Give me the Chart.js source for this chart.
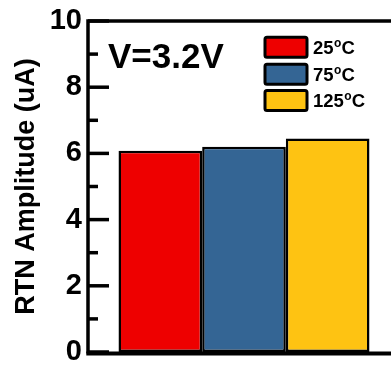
<!DOCTYPE html>
<html>
<head>
<meta charset="utf-8">
<script src="https://cdn.jsdelivr.net/npm/chart.js@4"></script>
<style>
html,body{margin:0;padding:0;background:#fff;overflow:hidden;}
#wrap{width:400px;height:365px;position:relative;}
</style>
</head>
<body>
<div id="wrap"><canvas id="c" width="400" height="365"></canvas></div>
<script>
const categories = [''];
const seriesLabels = ['25\u00B0C', '75\u00B0C', '125\u00B0C'];
const seriesValues = [[6.08], [6.20], [6.45]];
const seriesColors = ['#EE0000', '#346594', '#FEC312'];
const yTicks = [0, 2, 4, 6, 8, 10];
const annotationText = 'V=3.2V';
const yTitle = 'RTN Amplitude (uA)';

const FONT = '"Liberation Sans", Arial, sans-serif';

function drawDegreeLabel(ctx, text, x, cy) {
  const parts = text.split('\u00B0');
  ctx.textAlign = 'left';
  ctx.textBaseline = 'alphabetic';
  const base = cy + 6.7;
  ctx.font = 'bold 18.5px ' + FONT;
  ctx.fillText(parts[0], x, base);
  let px = x + ctx.measureText(parts[0]).width;
  if (parts.length > 1) {
    ctx.font = 'bold 12px ' + FONT;
    ctx.fillText('o', px + 0.5, base - 7);
    px += ctx.measureText('o').width + 0.5;
    ctx.font = 'bold 18.5px ' + FONT;
    ctx.fillText(parts[1], px, base);
  }
}

const framePlugin = {
  id: 'frame',
  afterDraw(chart) {
    const ctx = chart.ctx;
    const a = chart.chartArea;
    const y = chart.scales.y;
    ctx.save();
    ctx.strokeStyle = '#000';
    ctx.lineWidth = 3.5;
    y.ticks.forEach(t => {
      const py = y.getPixelForValue(t.value);
      const len = yTicks.includes(t.value) ? 21 : 10;
      ctx.beginPath();
      ctx.moveTo(a.left, py);
      ctx.lineTo(a.left + len, py);
      ctx.stroke();
    });
    // frame: top, left, bottom
    ctx.lineWidth = 3.5;
    ctx.beginPath();
    ctx.moveTo(a.right + 5, a.top);
    ctx.lineTo(a.left, a.top);
    ctx.lineTo(a.left, a.bottom + 1.5);
    ctx.stroke();
    ctx.lineWidth = 4;
    ctx.beginPath();
    ctx.moveTo(a.left - 1.7, a.bottom + 1.5);
    ctx.lineTo(a.right + 5, a.bottom + 1.5);
    ctx.stroke();
    // annotation
    ctx.fillStyle = '#000';
    ctx.font = 'bold 35px ' + FONT;
    ctx.textBaseline = 'alphabetic';
    ctx.textAlign = 'left';
    ctx.fillText(annotationText, 108, 68);
    // legend
    const bx = 265, bw = 42, bh = 20;
    const rows = [47.3, 74.3, 100.5];
    chart.data.datasets.forEach((ds, i) => {
      const cy = rows[i];
      ctx.fillStyle = ds.backgroundColor;
      ctx.lineWidth = 3;
      ctx.strokeStyle = '#000';
      ctx.beginPath();
      if (ctx.roundRect) ctx.roundRect(bx, cy - bh / 2, bw, bh, 2); else ctx.rect(bx, cy - bh / 2, bw, bh);
      ctx.fill();
      ctx.stroke();
      ctx.fillStyle = '#000';
      drawDegreeLabel(ctx, ds.label, 313, cy);
    });
    ctx.restore();
  }
};

const datasets = seriesLabels.map((lab, i) => ({
  label: lab,
  data: seriesValues[i],
  backgroundColor: seriesColors[i],
  borderColor: '#000',
  borderWidth: 2.5,
  borderSkipped: false,
  barPercentage: 1.0,
  categoryPercentage: 0.8045
}));

new Chart(document.getElementById('c'), {
  type: 'bar',
  data: { labels: categories, datasets: datasets },
  options: {
    responsive: false,
    animation: false,
    devicePixelRatio: 1,
    layout: { padding: { left: 0, right: 0, top: 21, bottom: 13 } },
    plugins: { legend: { display: false }, tooltip: { enabled: false } },
    scales: {
      x: { display: false },
      y: {
        min: 0, max: 10,
        afterFit(scale) { scale.width = 88; scale.paddingTop = 0; scale.paddingBottom = 0; },
        border: { display: false },
        grid: { display: false, drawTicks: false },
        ticks: {
          stepSize: 1,
          padding: 6,
          color: '#000',
          font: { family: FONT, size: 29, weight: 'bold', lineHeight: 0.8 },
          callback: v => (yTicks.includes(v) ? String(v) : '')
        },
        title: {
          display: true,
          text: yTitle,
          color: '#000',
          font: { family: FONT, size: 27, weight: 'bold', lineHeight: 1.2 },
          padding: { top: 10, bottom: 0 }
        }
      }
    }
  },
  plugins: [framePlugin]
});
</script>
</body>
</html>
